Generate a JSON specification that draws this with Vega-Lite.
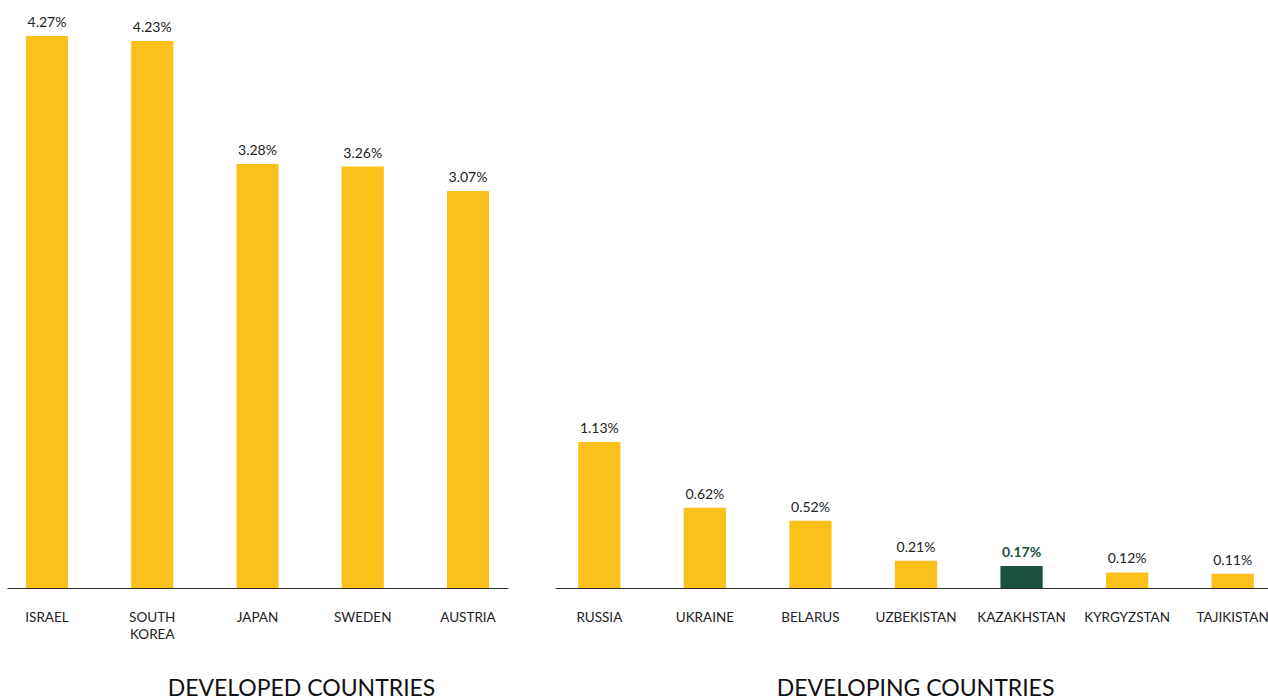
{
  "$schema": "https://vega.github.io/schema/vega-lite/v6.json",
  "padding": {"left": 7, "top": 0, "right": 0, "bottom": 0},
  "background": "white",
  "config": {
    "view": {"stroke": null},
    "font": "Lato",
    "concat": {"spacing": 47}
  },
  "data": {
    "values": [
      {"group": "Developed", "country": "ISRAEL", "value": 4.27, "label": "4.27%", "hl": "no"},
      {"group": "Developed", "country": "SOUTH KOREA", "value": 4.23, "label": "4.23%", "hl": "no"},
      {"group": "Developed", "country": "JAPAN", "value": 3.28, "label": "3.28%", "hl": "no"},
      {"group": "Developed", "country": "SWEDEN", "value": 3.26, "label": "3.26%", "hl": "no"},
      {"group": "Developed", "country": "AUSTRIA", "value": 3.07, "label": "3.07%", "hl": "no"},
      {"group": "Developing", "country": "RUSSIA", "value": 1.13, "label": "1.13%", "hl": "no"},
      {"group": "Developing", "country": "UKRAINE", "value": 0.62, "label": "0.62%", "hl": "no"},
      {"group": "Developing", "country": "BELARUS", "value": 0.52, "label": "0.52%", "hl": "no"},
      {"group": "Developing", "country": "UZBEKISTAN", "value": 0.21, "label": "0.21%", "hl": "no"},
      {"group": "Developing", "country": "KAZAKHSTAN", "value": 0.17, "label": "0.17%", "hl": "yes"},
      {"group": "Developing", "country": "KYRGYZSTAN", "value": 0.12, "label": "0.12%", "hl": "no"},
      {"group": "Developing", "country": "TAJIKISTAN", "value": 0.11, "label": "0.11%", "hl": "no"}
    ]
  },
  "resolve": {"scale": {"x": "independent", "y": "shared", "color": "shared"}},
  "hconcat": [
    {
      "width": 501,
      "height": 588,
      "transform": [{"filter": "datum.group == 'Developed'"}],
      "encoding": {
        "x": {
          "field": "country", "type": "nominal", "sort": null,
          "scale": {"paddingInner": 0.6, "paddingOuter": 0.18},
          "axis": {
            "title": "DEVELOPED COUNTRIES",
            "titleFontSize": 23, "titleFontWeight": "normal", "titleColor": "#111",
            "titleX": 294, "titleY": 107, "titleBaseline": "alphabetic",
            "labelExpr": "datum.label == 'SOUTH KOREA' ? ['SOUTH','KOREA'] : datum.label",
            "labelFontSize": 13.5, "labelColor": "#222", "labelPadding": 22, "labelLineHeight": 17,
            "ticks": false, "domainColor": "#333", "domainWidth": 1, "labelAngle": 0
          }
        },
        "y": {
          "field": "value", "type": "quantitative",
          "scale": {"domain": [0, 4.548], "nice": false},
          "axis": null
        }
      },
      "layer": [
        {
          "mark": {"type": "bar"},
          "encoding": {
            "color": {"field": "hl", "type": "nominal", "scale": {"domain": ["no", "yes"], "range": ["#FCC01A", "#1C4F40"]}, "legend": null}
          }
        },
        {
          "mark": {"type": "text", "baseline": "alphabetic", "dy": -9, "fontSize": 14, "color": "#222"},
          "encoding": {"text": {"field": "label"}}
        }
      ]
    },
    {
      "width": 722,
      "height": 588,
      "transform": [{"filter": "datum.group == 'Developing'"}],
      "encoding": {
        "x": {
          "field": "country", "type": "nominal", "sort": null,
          "scale": {"paddingInner": 0.6, "paddingOuter": 0.22},
          "axis": {
            "title": "DEVELOPING COUNTRIES",
            "titleFontSize": 23, "titleFontWeight": "normal", "titleColor": "#111",
            "titleX": 360, "titleY": 107, "titleBaseline": "alphabetic",
            "labelFontSize": 13.5, "labelColor": "#222", "labelPadding": 22,
            "ticks": false, "domainColor": "#333", "domainWidth": 1, "labelAngle": 0
          }
        },
        "y": {
          "field": "value", "type": "quantitative",
          "scale": {"domain": [0, 4.548], "nice": false},
          "axis": null
        }
      },
      "layer": [
        {
          "mark": {"type": "bar"},
          "encoding": {
            "color": {"field": "hl", "type": "nominal", "scale": {"domain": ["no", "yes"], "range": ["#FCC01A", "#1C4F40"]}, "legend": null}
          }
        },
        {
          "transform": [{"filter": "datum.hl == 'no'"}],
          "mark": {"type": "text", "baseline": "alphabetic", "dy": -9, "fontSize": 14, "color": "#222"},
          "encoding": {"text": {"field": "label"}}
        },
        {
          "transform": [{"filter": "datum.hl == 'yes'"}],
          "mark": {"type": "text", "baseline": "alphabetic", "dy": -9, "fontSize": 14, "fontWeight": "bold", "color": "#1C4F40"},
          "encoding": {"text": {"field": "label"}}
        }
      ]
    }
  ]
}
